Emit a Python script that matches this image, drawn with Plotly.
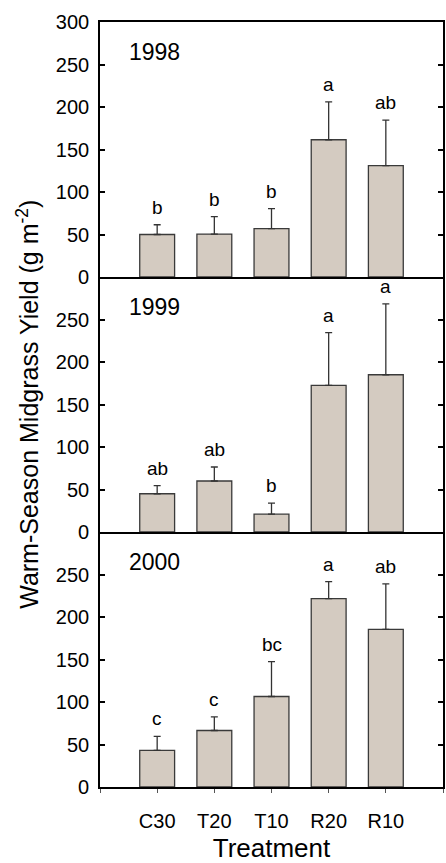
import plotly.graph_objects as go
from plotly.subplots import make_subplots

categories = ["C30", "T20", "T10", "R20", "R10"]
years = ["1998", "1999", "2000"]

y1998 = [50, 50.5, 57, 161.5, 131]
err1998 = [11.5, 20.5, 23.5, 44.5, 53.5]
let1998 = ["b", "b", "b", "a", "ab"]

y1999 = [45, 60, 21, 172.5, 185]
err1999 = [9.5, 16.5, 13, 62, 83.5]
let1999 = ["ab", "ab", "b", "a", "a"]

y2000 = [43, 66.5, 106.5, 221.5, 185.5]
err2000 = [16.5, 16, 41, 20, 53.5]
let2000 = ["c", "c", "bc", "a", "ab"]

yticks_top = [0, 50, 100, 150, 200, 250, 300]
yticks_other = [0, 50, 100, 150, 200, 250]

FONT = "Arial, Liberation Sans, sans-serif"
BAR = "#d4cbc1"

xs = list(range(len(categories)))
series = [(y1998, err1998, let1998), (y1999, err1999, let1999), (y2000, err2000, let2000)]

fig = make_subplots(rows=3, cols=1, shared_xaxes=True, vertical_spacing=0)

annotations = []
for r, (vals, errs, lets) in enumerate(series, start=1):
    fig.add_trace(go.Bar(
        x=xs, y=vals, width=0.61,
        marker=dict(color=BAR, line=dict(color="#3a3a3a", width=1.3)),
        error_y=dict(type="data", array=errs, arrayminus=[0]*len(errs), symmetric=False,
                     color="#333333", thickness=1.3, width=3.5),
        showlegend=False,
    ), row=r, col=1)
    yref = "y" if r == 1 else f"y{r}"
    xref = "x" if r == 1 else f"x{r}"
    for i, (v, e, l) in enumerate(zip(vals, errs, lets)):
        annotations.append(dict(x=xs[i], y=v + e, xref=xref, yref=yref, text=l,
                                showarrow=False, yanchor="bottom", yshift=5,
                                font=dict(family=FONT, size=19, color="black")))
    annotations.append(dict(x=-0.52, y=265, xref=xref, yref=yref, text=years[r-1],
                            showarrow=False, xanchor="left", yanchor="middle",
                            font=dict(family=FONT, size=23, color="black")))

annotations.append(dict(x=-0.212, y=0.5, xref="paper", yref="paper",
                        text="Warm-Season Midgrass Yield (g m<sup>-2</sup>)",
                        textangle=-90, showarrow=False, xanchor="center", yanchor="middle",
                        font=dict(family=FONT, size=25, color="black")))

for r in range(1, 4):
    fig.update_yaxes(
        range=[0, 300],
        tickvals=yticks_top if r == 1 else yticks_other,
        ticks="inside", ticklen=5, tickwidth=1.5, tickcolor="black",
        showline=True, linecolor="black", linewidth=1.6, mirror="ticks",
        showgrid=False, zeroline=False,
        tickfont=dict(family=FONT, size=20, color="black"),
        ticklabelstandoff=5,
        row=r, col=1)
    fig.update_xaxes(
        range=[-1, 5],
        tickvals=xs,
        ticktext=categories,
        ticks="outside" if r == 3 else "", ticklen=4, tickwidth=1, tickcolor="#555555",
        minor=dict(tickvals=[-1, 5], ticks="outside" if r == 3 else "", ticklen=4,
                   tickwidth=1, tickcolor="#555555", showgrid=False),
        showticklabels=(r == 3),
        showline=True, linecolor="black", linewidth=1.6, mirror=(r == 1),
        showgrid=False, zeroline=False,
        tickfont=dict(family=FONT, size=20, color="black"),
        ticklabelstandoff=11,
        row=r, col=1)

fig.update_xaxes(title=dict(text="Treatment", font=dict(family=FONT, size=26, color="black"), standoff=12),
                 row=3, col=1)

fig.update_layout(
    width=446, height=863,
    margin=dict(l=100, r=1, t=22, b=74),
    paper_bgcolor="white", plot_bgcolor="white",
    annotations=annotations,
    bargap=0.3,
)

fig.write_html("out.html")
